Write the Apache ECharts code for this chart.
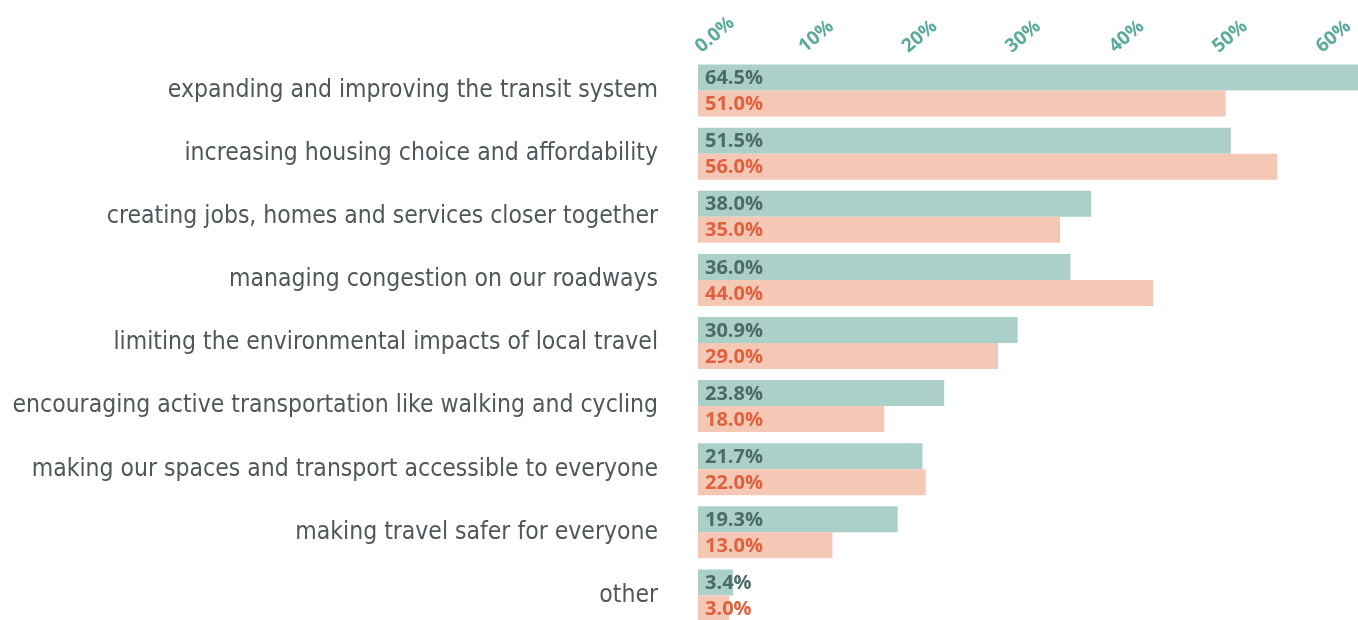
<!DOCTYPE html>
<html>
<head>
<meta charset="utf-8">
<script src="https://cdn.jsdelivr.net/npm/echarts@6/dist/echarts.min.js"></script>
<style>
  html, body { margin: 0; padding: 0; background: #fff; }
  #main { width: 1358px; height: 620px; }
</style>
</head>
<body>
<div id="main"></div>
<script>
// categories, top to bottom
var categories = [
  'expanding and improving the transit system',
  'increasing housing choice and affordability',
  'creating jobs, homes and services closer together',
  'managing congestion on our roadways',
  'limiting the environmental impacts of local travel',
  'encouraging active transportation like walking and cycling',
  'making our spaces and transport accessible to everyone',
  'making travel safer for everyone',
  'other'
];
// teal series (top bar of each pair)
var tealValues = [64.5, 51.5, 38.0, 36.0, 30.9, 23.8, 21.7, 19.3, 3.4];
// salmon series (bottom bar of each pair)
var salmonValues = [51.0, 56.0, 35.0, 44.0, 29.0, 18.0, 22.0, 13.0, 3.0];
var tickLabels = ['0.0%', '10%', '20%', '30%', '40%', '50%', '60%'];

var myChart = echarts.init(document.getElementById('main'));

function barLabel(color) {
  return {
    show: true,
    position: 'insideLeft',
    offset: [2, 1],
    color: color,
    fontFamily: 'Open Sans',
    fontWeight: 'bold',
    fontSize: 20,
    formatter: function (p) { return p.value.toFixed(1) + '%'; }
  };
}

var option = {
  animation: false,
  grid: { left: 698, right: 0, top: 59, height: 568, containLabel: false, outerBoundsMode: 'none' },
  xAxis: {
    type: 'value',
    position: 'top',
    min: 0,
    max: 63.8,
    interval: 10,
    axisLine: { show: false },
    axisTick: { show: false },
    splitLine: { show: false },
    axisLabel: {
      rotate: -40,
      margin: 10,
      color: '#5aab9b',
      fontFamily: 'Open Sans',
      fontWeight: 'bold',
      fontSize: 19,
      formatter: function (v) {
        if (v % 10 !== 0) return '';
        return tickLabels[v / 10];
      }
    }
  },
  yAxis: {
    type: 'category',
    data: categories,
    inverse: true,
    axisLine: { show: false },
    axisTick: { show: false },
    axisLabel: {
      margin: 40,
      color: '#4f575a',
      fontFamily: '"DejaVu Sans Condensed", Roboto, sans-serif',
      fontSize: 24.5
    }
  },
  series: [
    {
      name: 'teal',
      type: 'bar',
      data: tealValues,
      barWidth: 26,
      barGap: '0%',
      itemStyle: { color: '#abd0c9' },
      label: barLabel('#4d6b66')
    },
    {
      name: 'salmon',
      type: 'bar',
      data: salmonValues,
      barWidth: 26,
      barGap: '0%',
      itemStyle: { color: '#f4c8b5' },
      label: barLabel('#e0613e')
    }
  ]
};

myChart.setOption(option);
</script>
</body>
</html>
